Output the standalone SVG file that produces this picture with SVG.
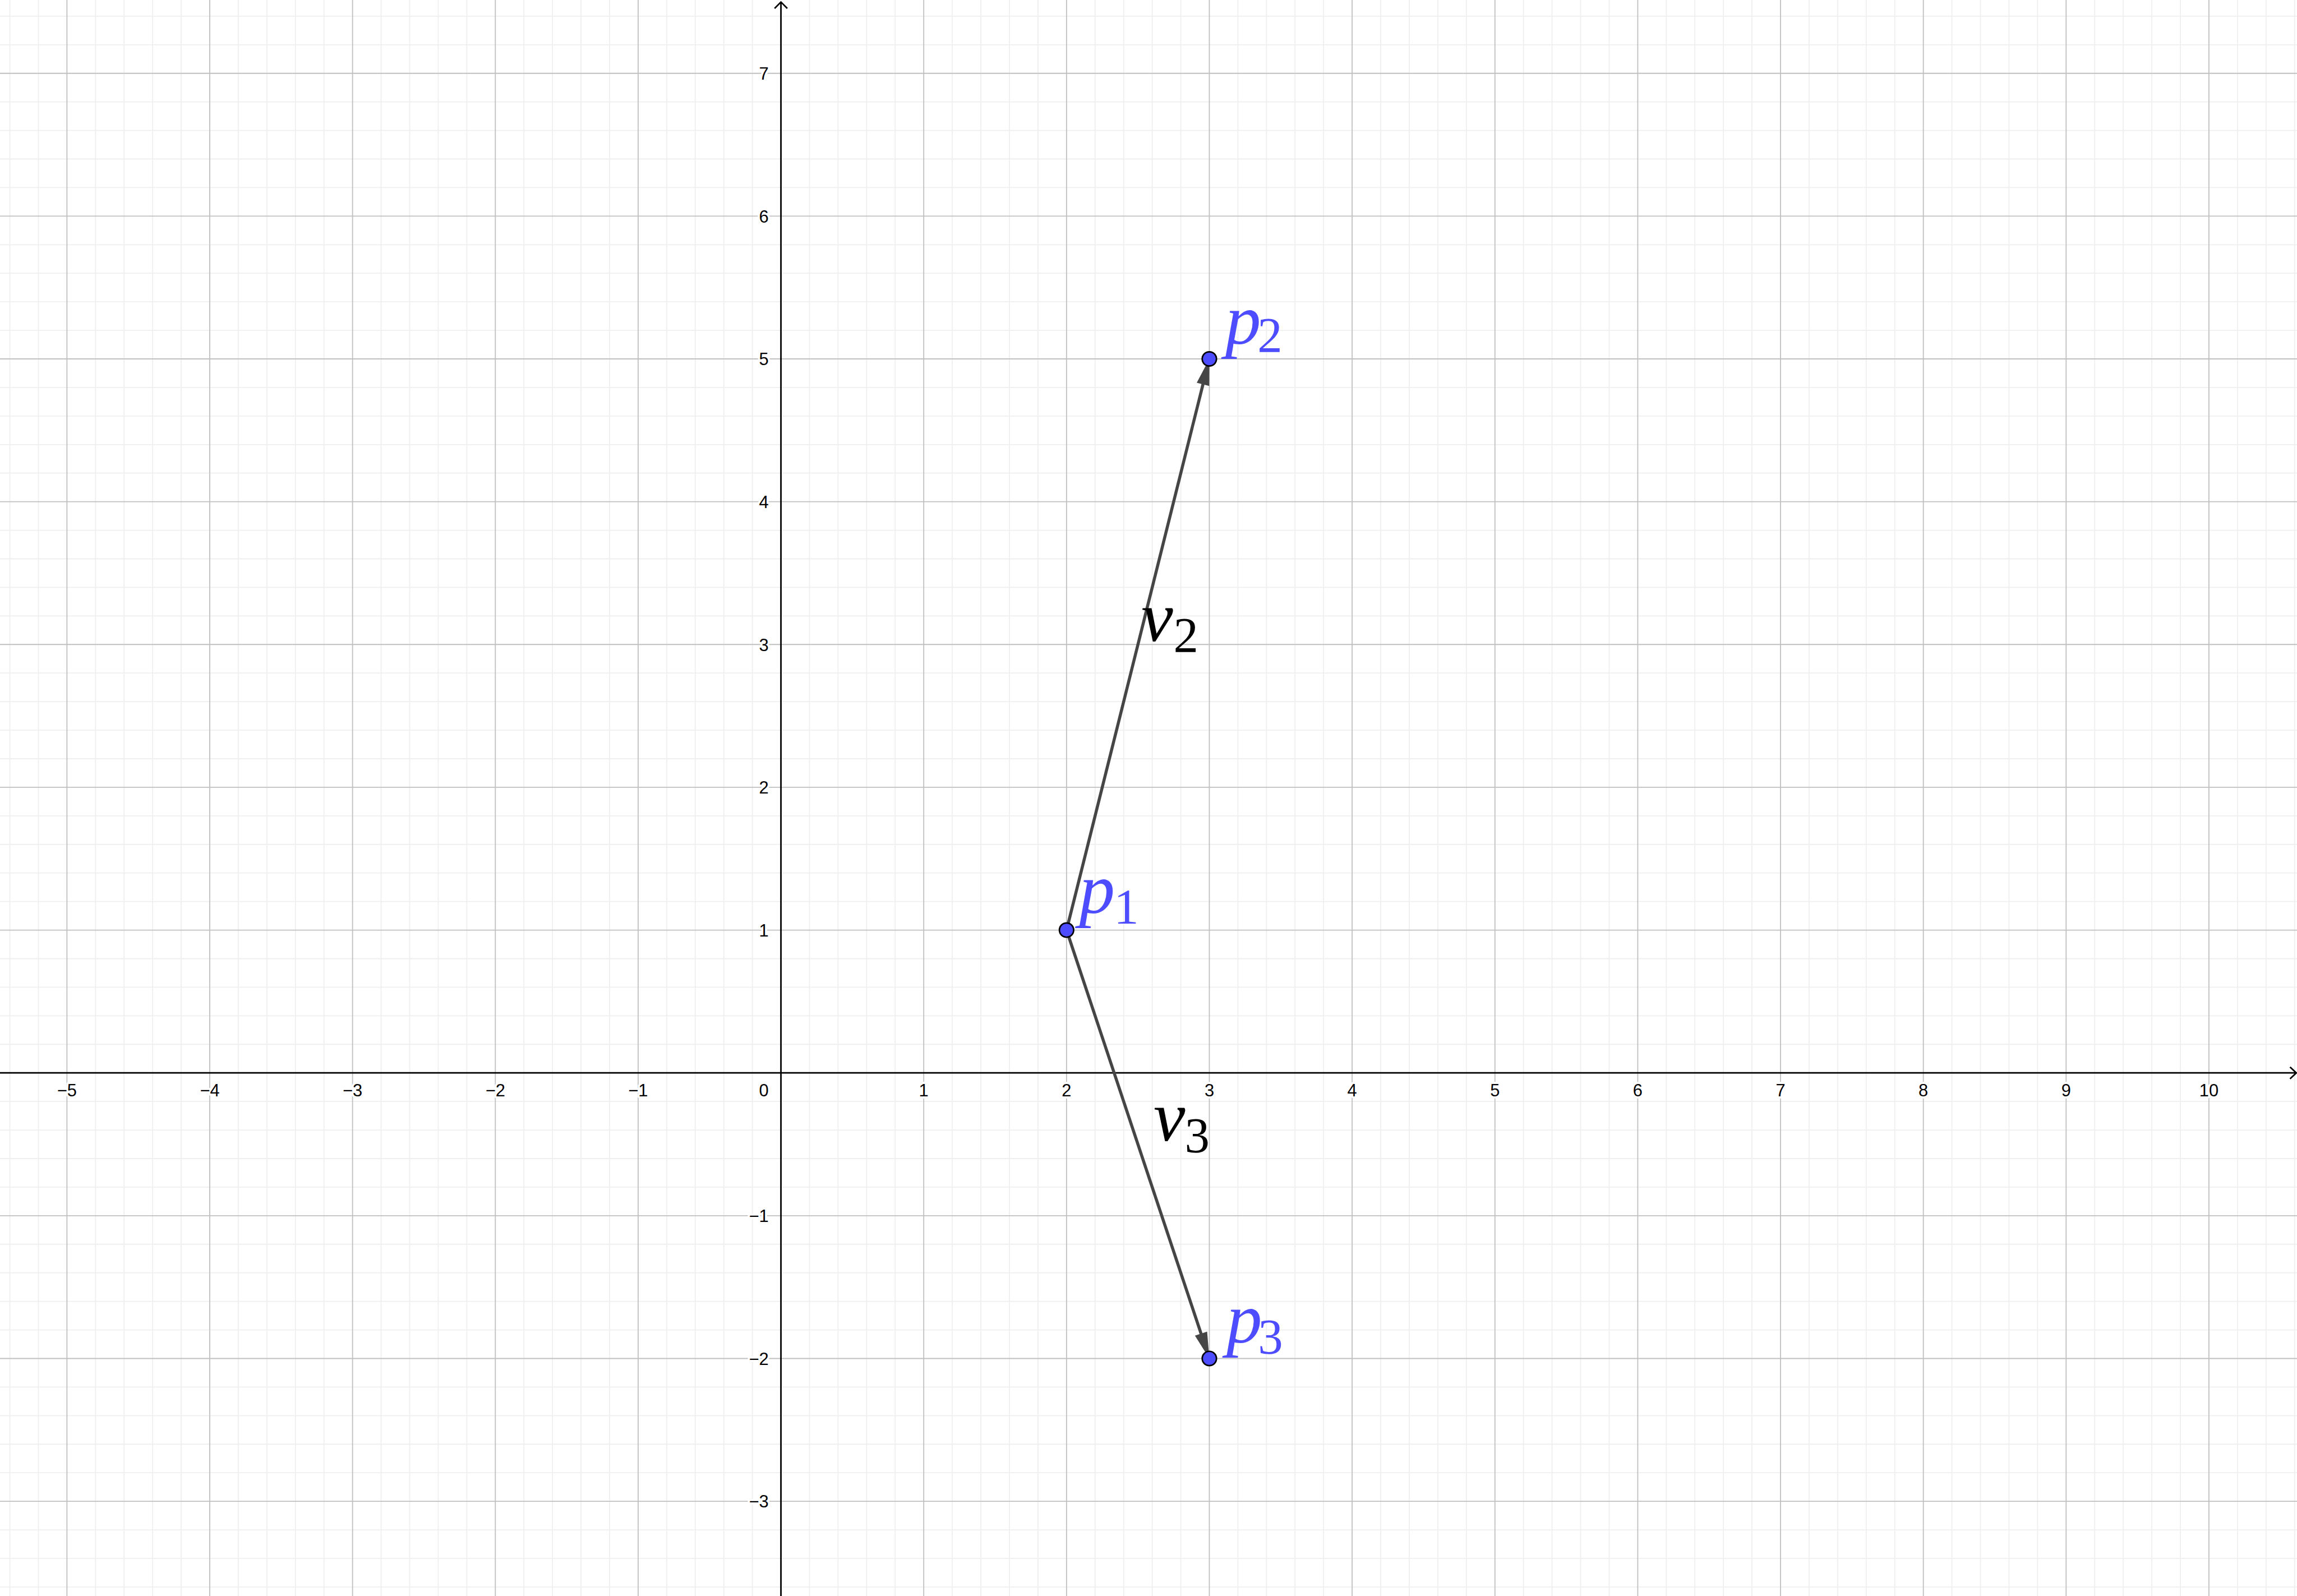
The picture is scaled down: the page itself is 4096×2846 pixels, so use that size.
<svg xmlns="http://www.w3.org/2000/svg" width="4096" height="2846" viewBox="0 0 4096 2846">
<style>
.minor{fill:none;stroke:#efefef;stroke-width:0.00713}
.major{fill:none;stroke:#c0c0c0;stroke-width:0.00713}
.axis{fill:none;stroke:#000;stroke-width:3}
.tick{font-family:"Liberation Sans",Arial,sans-serif;font-size:34px;fill:#000;stroke:#fff;stroke-width:8px;stroke-linejoin:round;paint-order:stroke}
.tx{text-anchor:middle}
.ty{text-anchor:end}
.vec{fill:none;stroke:#454545;stroke-width:6}
.pt{fill:#4d4dff;stroke:#000;stroke-width:3}
.lbl{font-family:"Liberation Serif","Times New Roman",serif;font-size:140px}
.sub{font-family:"Liberation Serif","Times New Roman",serif;font-size:98px}
.blue{fill:#4d4dff}
.black{fill:#000}
</style>
<defs>
<marker id="ah" markerUnits="userSpaceOnUse" viewBox="-53 -14 54 28" markerWidth="54" markerHeight="28" refX="0" refY="0" orient="auto" overflow="visible">
<path d="M0 0L-51.5 -12.6L-51.5 12.6Z" fill="#454545"/>
</marker>
</defs>
<rect width="4096" height="2846" fill="#fff"/>
<g transform="scale(0.907801)">
<g id="grid" transform="translate(1534 2107.5) scale(280.5 -280.5)">
<path class="minor" d="M-5.4 -3.8V7.6M-5.2 -3.8V7.6M-4.8 -3.8V7.6M-4.6 -3.8V7.6M-4.4 -3.8V7.6M-4.2 -3.8V7.6M-3.8 -3.8V7.6M-3.6 -3.8V7.6M-3.4 -3.8V7.6M-3.2 -3.8V7.6M-2.8 -3.8V7.6M-2.6 -3.8V7.6M-2.4 -3.8V7.6M-2.2 -3.8V7.6M-1.8 -3.8V7.6M-1.6 -3.8V7.6M-1.4 -3.8V7.6M-1.2 -3.8V7.6M-0.8 -3.8V7.6M-0.6 -3.8V7.6M-0.4 -3.8V7.6M-0.2 -3.8V7.6M0.2 -3.8V7.6M0.4 -3.8V7.6M0.6 -3.8V7.6M0.8 -3.8V7.6M1.2 -3.8V7.6M1.4 -3.8V7.6M1.6 -3.8V7.6M1.8 -3.8V7.6M2.2 -3.8V7.6M2.4 -3.8V7.6M2.6 -3.8V7.6M2.8 -3.8V7.6M3.2 -3.8V7.6M3.4 -3.8V7.6M3.6 -3.8V7.6M3.8 -3.8V7.6M4.2 -3.8V7.6M4.4 -3.8V7.6M4.6 -3.8V7.6M4.8 -3.8V7.6M5.2 -3.8V7.6M5.4 -3.8V7.6M5.6 -3.8V7.6M5.8 -3.8V7.6M6.2 -3.8V7.6M6.4 -3.8V7.6M6.6 -3.8V7.6M6.8 -3.8V7.6M7.2 -3.8V7.6M7.4 -3.8V7.6M7.6 -3.8V7.6M7.8 -3.8V7.6M8.2 -3.8V7.6M8.4 -3.8V7.6M8.6 -3.8V7.6M8.8 -3.8V7.6M9.2 -3.8V7.6M9.4 -3.8V7.6M9.6 -3.8V7.6M9.8 -3.8V7.6M10.2 -3.8V7.6M10.4 -3.8V7.6M10.6 -3.8V7.6
M-5.6 -3.6H10.7M-5.6 -3.4H10.7M-5.6 -3.2H10.7M-5.6 -2.8H10.7M-5.6 -2.6H10.7M-5.6 -2.4H10.7M-5.6 -2.2H10.7M-5.6 -1.8H10.7M-5.6 -1.6H10.7M-5.6 -1.4H10.7M-5.6 -1.2H10.7M-5.6 -0.8H10.7M-5.6 -0.6H10.7M-5.6 -0.4H10.7M-5.6 -0.2H10.7M-5.6 0.2H10.7M-5.6 0.4H10.7M-5.6 0.6H10.7M-5.6 0.8H10.7M-5.6 1.2H10.7M-5.6 1.4H10.7M-5.6 1.6H10.7M-5.6 1.8H10.7M-5.6 2.2H10.7M-5.6 2.4H10.7M-5.6 2.6H10.7M-5.6 2.8H10.7M-5.6 3.2H10.7M-5.6 3.4H10.7M-5.6 3.6H10.7M-5.6 3.8H10.7M-5.6 4.2H10.7M-5.6 4.4H10.7M-5.6 4.6H10.7M-5.6 4.8H10.7M-5.6 5.2H10.7M-5.6 5.4H10.7M-5.6 5.6H10.7M-5.6 5.8H10.7M-5.6 6.2H10.7M-5.6 6.4H10.7M-5.6 6.6H10.7M-5.6 6.8H10.7M-5.6 7.2H10.7M-5.6 7.4H10.7"/>
<path class="major" d="M-5 -3.8V7.6M-4 -3.8V7.6M-3 -3.8V7.6M-2 -3.8V7.6M-1 -3.8V7.6M1 -3.8V7.6M2 -3.8V7.6M3 -3.8V7.6M4 -3.8V7.6M5 -3.8V7.6M6 -3.8V7.6M7 -3.8V7.6M8 -3.8V7.6M9 -3.8V7.6M10 -3.8V7.6
M-5.6 -3H10.7M-5.6 -2H10.7M-5.6 -1H10.7M-5.6 1H10.7M-5.6 2H10.7M-5.6 3H10.7M-5.6 4H10.7M-5.6 5H10.7M-5.6 6H10.7M-5.6 7H10.7"/>
</g>
<g id="axes">
<path class="axis" d="M0 2107.5H4510M4498.3 2096L4510.7 2107.5L4498.3 2119"/>
<path class="axis" d="M1534 3135V5M1521.5 16.5L1534 4L1546.5 16.5"/>
<g class="tick tx">
<text x="131.5" y="2153.5">−5</text>
<text x="412" y="2153.5">−4</text>
<text x="692.5" y="2153.5">−3</text>
<text x="973" y="2153.5">−2</text>
<text x="1253.5" y="2153.5">−1</text>
<text x="1814.5" y="2153.5">1</text>
<text x="2095" y="2153.5">2</text>
<text x="2375.5" y="2153.5">3</text>
<text x="2656" y="2153.5">4</text>
<text x="2936.5" y="2153.5">5</text>
<text x="3217" y="2153.5">6</text>
<text x="3497.5" y="2153.5">7</text>
<text x="3778" y="2153.5">8</text>
<text x="4058.5" y="2153.5">9</text>
<text x="4339" y="2153.5">10</text>
</g>
<g class="tick ty">
<text x="1510" y="2153.5">0</text>
<text x="1510" y="156.5">7</text>
<text x="1510" y="437">6</text>
<text x="1510" y="717.5">5</text>
<text x="1510" y="998">4</text>
<text x="1510" y="1278.5">3</text>
<text x="1510" y="1559">2</text>
<text x="1510" y="1839.5">1</text>
<text x="1510" y="2400.5">−1</text>
<text x="1510" y="2681">−2</text>
<text x="1510" y="2961.5">−3</text>
</g>
</g>
<g id="connectors">
<g id="v2">
<path class="vec" d="M2095 1827L2375.5 705" marker-end="url(#ah)"/>
<text class="black"><tspan class="lbl" font-style="italic" x="2242" y="1259">v</tspan><tspan class="sub" x="2305" y="1280">2</tspan></text>
</g>
<g id="v3">
<path class="vec" d="M2095 1827L2375.5 2668.5" marker-end="url(#ah)"/>
<text class="black"><tspan class="lbl" font-style="italic" x="2266" y="2241">v</tspan><tspan class="sub" x="2327" y="2263">3</tspan></text>
</g>
</g>
<g id="p1">
<circle class="pt" cx="2095" cy="1827" r="14"/>
<text class="blue"><tspan class="lbl" font-style="italic" x="2120" y="1793">p</tspan><tspan class="sub" x="2188" y="1813">1</tspan></text>
</g>
<g id="p2">
<circle class="pt" cx="2375.5" cy="705" r="14"/>
<text class="blue"><tspan class="lbl" font-style="italic" x="2407" y="675">p</tspan><tspan class="sub" x="2470" y="691">2</tspan></text>
</g>
<g id="p3">
<circle class="pt" cx="2375.5" cy="2668.5" r="14"/>
<text class="blue"><tspan class="lbl" font-style="italic" x="2409" y="2637">p</tspan><tspan class="sub" x="2471" y="2658">3</tspan></text>
</g>
</g>
</svg>
